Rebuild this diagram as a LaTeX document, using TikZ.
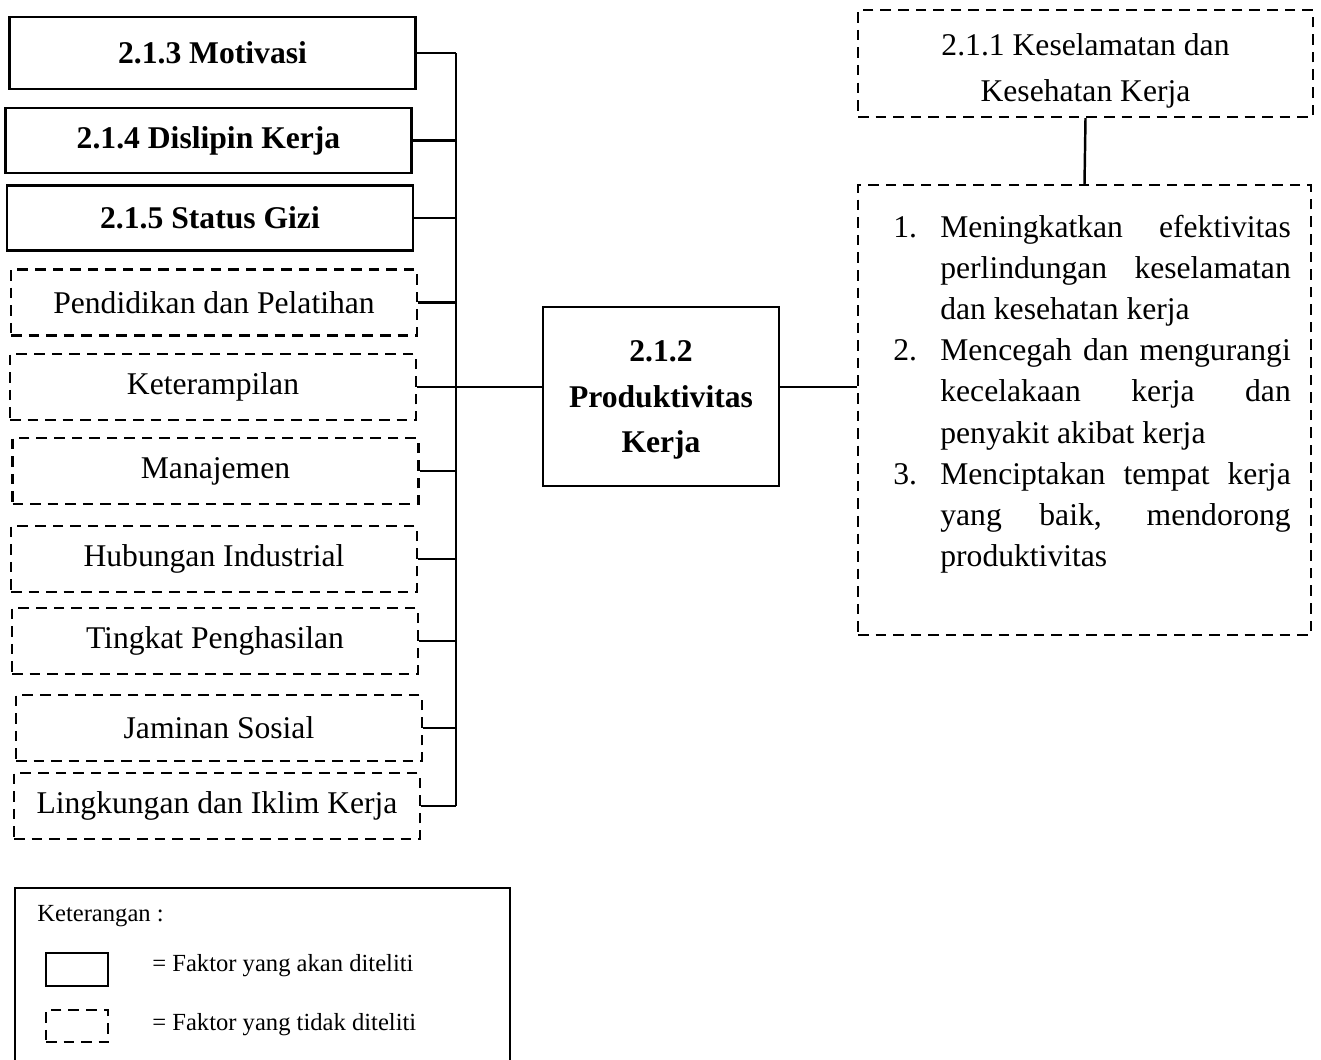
\documentclass[tikz,border=0pt]{standalone}
\usepackage{fontspec}
\setmainfont{Liberation Serif}
\usetikzlibrary{positioning,calc}
\newcommand{\butir}[2]{\par\noindent\hangindent=0.94cm\hangafter=1\makebox[0.94cm][l]{#1}#2\par}

\begin{document}
\begin{tikzpicture}[x=0.02cm,y=-0.02cm,
  diteliti/.style={draw,line width=1.6pt,minimum width=8.12cm,minimum height=1.3cm,inner sep=0pt,font=\fontsize{18}{26}\selectfont\bfseries},
  tidakditeliti/.style={draw,line width=1.4pt,dash pattern=on 6pt off 4pt,minimum width=8.12cm,minimum height=1.32cm,inner sep=0pt,font=\fontsize{18}{26}\selectfont},
  garis/.style={line width=1.4pt},
  keterangan/.style={anchor=west,inner sep=0pt,font=\fontsize{14}{16}\selectfont}]
\useasboundingbox (0,0) rectangle (1321,1059);

% LEFT: factors (solid = diteliti, dashed = tidak diteliti)
\node[diteliti, minimum height=1.44cm] (mot) at (212.5,53) {2.1.3 Motivasi};
\node[diteliti] (dis) at (208.5,140.5) {2.1.4 Dislipin Kerja};
\node[diteliti] (giz) at (210,218) {2.1.5 Status Gizi};
\node[tidakditeliti] (pen) at (214,302.5) {Pendidikan dan Pelatihan};
\node[tidakditeliti] (ket) at (213,387) {Keterampilan};
\node[tidakditeliti] (man) at (215.5,471) {Manajemen};
\node[tidakditeliti] (hub) at (214,559) {Hubungan Industrial};
\node[tidakditeliti] (tin) at (215,641) {Tingkat Penghasilan};
\node[tidakditeliti] (jam) at (219,728) {Jaminan Sosial};
\node[tidakditeliti] (lin) at (217,806) {Lingkungan dan Iklim Kerja};

% Bus line
\coordinate (bus) at (456,0);
\foreach \n in {mot,dis,giz,pen,ket,man,hub,tin,jam,lin}
  \draw[garis] (\n.east) -- (\n.east -| bus);
\draw[garis] (mot.east -| bus) -- (lin.east -| bus);

% CENTER: Produktivitas Kerja
\node[diteliti, minimum width=4.72cm, minimum height=3.58cm, align=center,
      font=\fontsize{18}{26}\selectfont\bfseries] (prod) at (661,396.5)
  {\rule{0pt}{16pt}2.1.2\\Produktivitas\\Kerja};
\draw[garis] (ket.east -| bus) -- (ket.east -| prod.west);

% RIGHT: K3 and its goals
\node[tidakditeliti, minimum width=9.1cm, minimum height=2.14cm, align=center,
      font=\fontsize{18}{26.5}\selectfont] (k3) at (1085.5,63.5)
  {\rule{0pt}{21pt}2.1.1 Keselamatan dan\\Kesehatan Kerja};
\node[tidakditeliti, minimum width=9.06cm, minimum height=9cm] (tujuan) at (1084.5,410) {};
\node[anchor=north west, text width=7.95cm, align=justify, inner sep=0pt,
      font=\fontsize{18}{23.4}\selectfont] (isitujuan) at (893,196)
  {\hyphenpenalty=10000
   \butir{1.}{Meningkatkan efektivitas\linebreak perlindungan keselamatan\linebreak dan kesehatan kerja}
   \butir{2.}{Mencegah dan mengurangi\linebreak kecelakaan kerja dan\linebreak penyakit akibat kerja}
   \butir{3.}{Menciptakan tempat kerja\linebreak yang baik, mendorong\linebreak produktivitas}};
\draw[garis] (k3.south) -- (tujuan.north);
\draw[garis] (prod.east |- ket.east) -- (ket.east -| tujuan.west);

% Legend
\draw[garis] (15,1065) |- (510,888) -- (510,1065);
\node[keterangan] (judul) at (37,916) {Keterangan :};
\node[draw, line width=1.4pt, minimum width=1.24cm, minimum height=0.66cm] (contohA) at (77,969.5) {};
\node[keterangan] (ketA) at (152,966) {= Faktor yang akan diteliti};
\node[draw, line width=1.3pt, dash pattern=on 6pt off 4pt, minimum width=1.24cm, minimum height=0.64cm] (contohB) at (77,1026) {};
\node[keterangan] (ketB) at (152,1025) {= Faktor yang tidak diteliti};

\end{tikzpicture}
\end{document}
